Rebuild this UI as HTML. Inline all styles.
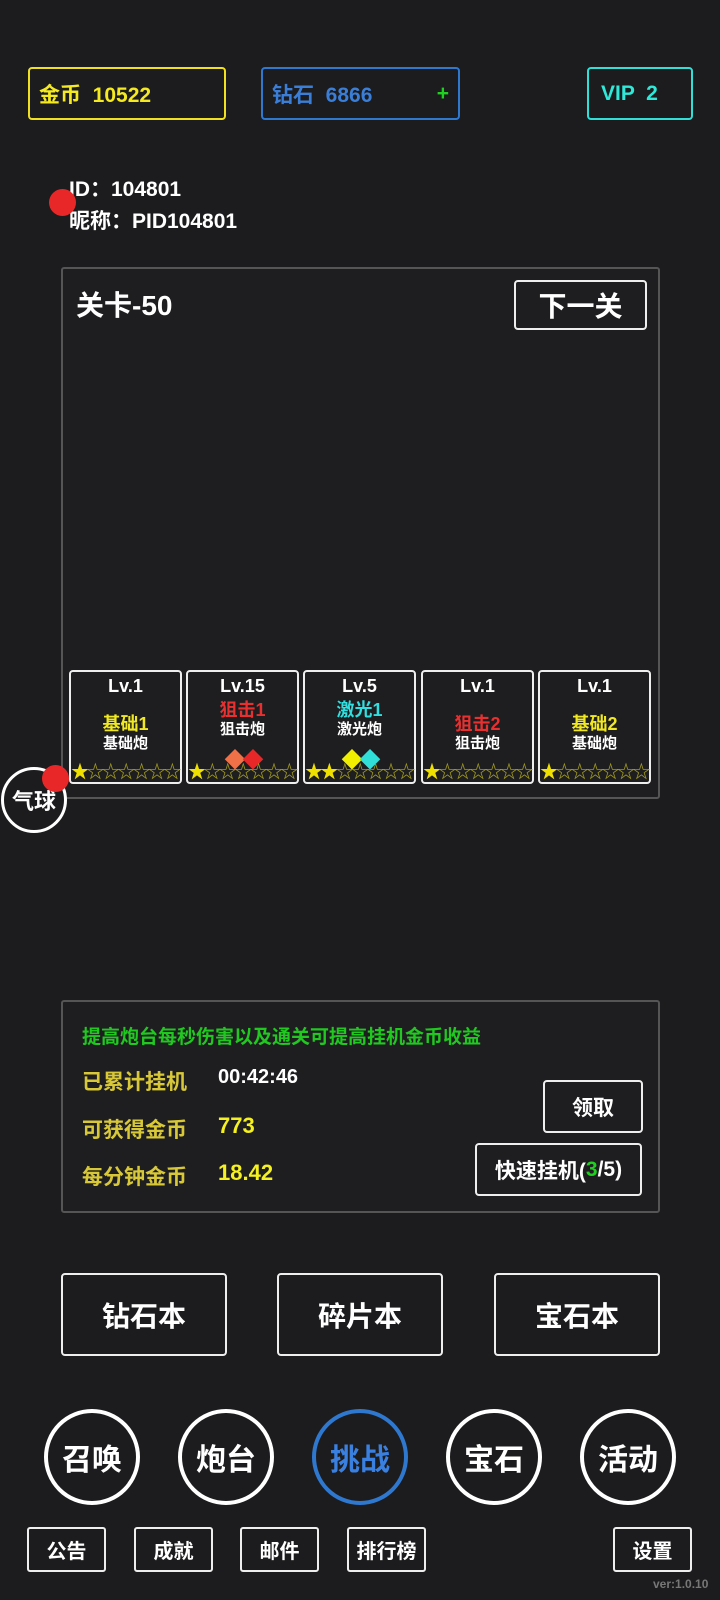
<!DOCTYPE html>
<html><head><meta charset="utf-8"><style>
body{margin:0;width:720px;height:1600px;background:#1c1c1e;position:relative;overflow:hidden;font-family:"Liberation Sans","Noto Sans CJK SC",sans-serif;font-weight:bold;color:#fff}
.a{position:absolute;box-sizing:border-box}
.box{border:2px solid;border-radius:4px;display:flex;align-items:center}
.c{display:flex;align-items:center;justify-content:center}
.card{border:2px solid #eee;border-radius:4px;width:113px;height:114px;top:670px;text-align:center}
.card .lv{position:absolute;top:4px;left:0;right:0;font-size:18px}
.card .n{position:absolute;top:38px;left:0;right:0;font-size:18px}
.card .t{position:absolute;top:60px;left:0;right:0;font-size:15px}
.card .g{position:absolute;top:78px;left:0;right:0;font-size:21px;line-height:21px;letter-spacing:-3px}
.card .s{position:absolute;top:86px;left:0px;font-size:18px;color:#a09a20;letter-spacing:-2.6px;white-space:nowrap}
.card .s b{color:#f0e000}
.btn{border:2px solid #eee;border-radius:4px;font-size:28px}
.cir{width:96px;height:96px;border-radius:50%;border:4px solid #fff;top:1409px;font-size:30px}
.sm{border:2px solid #eee;border-radius:3px;top:1527px;width:79px;height:45px;font-size:20px}
.lab{color:#d8c838;font-size:21px;left:82px}
</style></head><body>
<div class="a box" style="left:28px;top:67px;width:198px;height:53px;border-color:#f0e020;color:#f5ea20;font-size:21px;padding:0 0 0 9px">金币 &nbsp;10522</div>
<div class="a box" style="left:261px;top:67px;width:199px;height:53px;border-color:#2f78d0;color:#3a7ed8;font-size:21px;padding:0 0 0 9px">钻石 &nbsp;6866<span style="position:absolute;right:9px;color:#20d020">+</span></div>
<div class="a box" style="left:587px;top:67px;width:106px;height:53px;border-color:#30e0d8;color:#30e8d8;font-size:21px;padding:0 0 0 12px">VIP &nbsp;2</div>
<div class="a" style="left:69px;top:173px;font-size:21px">ID：104801</div>
<div class="a" style="left:69px;top:205px;font-size:21px">昵称：PID104801</div>
<div class="a" style="left:49px;top:189px;width:27px;height:27px;border-radius:50%;background:#e82828"></div>
<div class="a" style="left:61px;top:267px;width:599px;height:532px;border:2px solid #555;border-radius:3px;background:#1e1e20"></div>
<div class="a" style="left:76px;top:284px;font-size:28px">关卡-50</div>
<div class="a btn c" style="left:514px;top:280px;width:133px;height:50px">下一关</div>
<div class="a card" style="left:69px"><div class="lv">Lv.1</div><div class="n" style="color:#f0e820">基础1</div><div class="t">基础炮</div><div class="s"><b>★</b>☆☆☆☆☆☆</div></div>
<div class="a card" style="left:186px"><div class="lv">Lv.15</div><div class="n" style="top:24px;color:#e83030">狙击1</div><div class="t" style="top:46px">狙击炮</div><div class="g"><span style="color:#f07048">◆</span><span style="color:#e82828">◆</span></div><div class="s"><b>★</b>☆☆☆☆☆☆</div></div>
<div class="a card" style="left:303px"><div class="lv">Lv.5</div><div class="n" style="top:24px;color:#30e0e0">激光1</div><div class="t" style="top:46px">激光炮</div><div class="g"><span style="color:#f0f000">◆</span><span style="color:#30e0d8">◆</span></div><div class="s"><b>★★</b>☆☆☆☆☆</div></div>
<div class="a card" style="left:421px"><div class="lv">Lv.1</div><div class="n" style="color:#e83030">狙击2</div><div class="t">狙击炮</div><div class="s"><b>★</b>☆☆☆☆☆☆</div></div>
<div class="a card" style="left:538px"><div class="lv">Lv.1</div><div class="n" style="color:#f0e820">基础2</div><div class="t">基础炮</div><div class="s"><b>★</b>☆☆☆☆☆☆</div></div>
<div class="a c" style="left:1px;top:767px;width:66px;height:66px;border-radius:50%;border:3px solid #fff;font-size:22px;background:#1c1c1e">气球</div>
<div class="a" style="left:42px;top:765px;width:27px;height:27px;border-radius:50%;background:#e82828"></div>
<div class="a" style="left:61px;top:1000px;width:599px;height:213px;border:2px solid #555;border-radius:3px;background:#1e1e20"></div>
<div class="a" style="left:82px;top:1022px;font-size:19px;color:#20c820">提高炮台每秒伤害以及通关可提高挂机金币收益</div>
<div class="a lab" style="top:1066px">已累计挂机</div><div class="a" style="left:218px;top:1066px;font-size:20px">00:42:46</div>
<div class="a lab" style="top:1114px">可获得金币</div><div class="a" style="left:218px;top:1113px;font-size:22px;color:#f5f020">773</div>
<div class="a lab" style="top:1161px">每分钟金币</div><div class="a" style="left:218px;top:1160px;font-size:22px;color:#f5f020">18.42</div>
<div class="a btn c" style="left:543px;top:1080px;width:100px;height:53px;font-size:21px">领取</div>
<div class="a btn c" style="left:475px;top:1143px;width:167px;height:53px;font-size:21px">快速挂机(<span style="color:#20d020">3</span>/5)</div>
<div class="a btn c" style="left:61px;top:1273px;width:166px;height:83px">钻石本</div>
<div class="a btn c" style="left:277px;top:1273px;width:166px;height:83px">碎片本</div>
<div class="a btn c" style="left:494px;top:1273px;width:166px;height:83px">宝石本</div>
<div class="a cir c" style="left:44px">召唤</div>
<div class="a cir c" style="left:178px">炮台</div>
<div class="a cir c" style="left:312px;border-color:#2f78d0;color:#3a80e0">挑战</div>
<div class="a cir c" style="left:446px">宝石</div>
<div class="a cir c" style="left:580px">活动</div>
<div class="a sm c" style="left:27px">公告</div>
<div class="a sm c" style="left:134px">成就</div>
<div class="a sm c" style="left:240px">邮件</div>
<div class="a sm c" style="left:347px">排行榜</div>
<div class="a sm c" style="left:613px">设置</div>
<div class="a" style="left:653px;top:1577px;font-size:12px;color:#777">ver:1.0.10</div>
</body></html>
